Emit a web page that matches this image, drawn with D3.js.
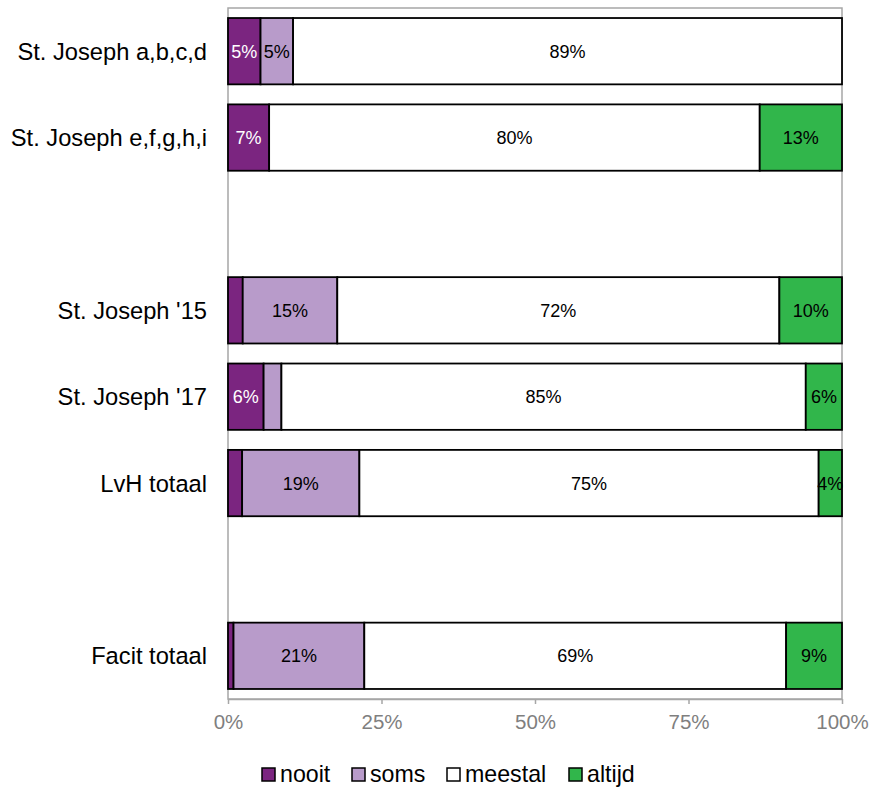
<!DOCTYPE html>
<html>
<head>
<meta charset="utf-8">
<script src="https://cdn.jsdelivr.net/npm/d3@7"></script>
<style>
  body { margin: 0; background: #fff; }
  svg { display: block; font-family: "Liberation Sans", Arial, sans-serif; }
</style>
</head>
<body>
<svg id="chart" width="870" height="787"></svg>
<script>
// Rows (empty strings are spacer rows)
const categories = ["St. Joseph a,b,c,d", "St. Joseph e,f,g,h,i", "", "St. Joseph '15", "St. Joseph '17", "LvH totaal", " ", "Facit totaal"];
const seriesNames = ["nooit", "soms", "meestal", "altijd"];
const nooit   = [5.3, 6.7, null, 2.4, 5.8, 2.3, null, 0.9];
const soms    = [5.3, 0.0, null, 15.4, 2.9, 19.1, null, 21.3];
const meestal = [89.4, 79.9, null, 72.0, 85.4, 74.8, null, 68.7];
const altijd  = [0.0, 13.4, null, 10.2, 5.9, 3.8, null, 9.1];
const xTicks = [0, 25, 50, 75, 100];
const colors = ["#7B2580", "#B89BCA", "#FFFFFF", "#31B64B"];
const labelColors = ["#FFFFFF", "#000000", "#000000", "#000000"];

const seriesValues = [nooit, soms, meestal, altijd];
const rows = categories.map((c, i) => {
  const o = { cat: c };
  seriesNames.forEach((s, j) => o[s] = seriesValues[j][i] || 0);
  o.empty = nooit[i] === null;
  return o;
});

const svg = d3.select("#chart");
const mLeft = 228, mRight = 842, mTop = 8, mBottom = 699;

const x = d3.scaleLinear().domain([0, 100]).range([mLeft, mRight]);
const y = d3.scaleBand().domain(categories).range([mTop, mBottom]).paddingInner(0.232).paddingOuter(0.116);

// plot area border
svg.append("rect").attr("x", mLeft).attr("y", mTop).attr("width", mRight - mLeft).attr("height", mBottom - mTop)
  .attr("fill", "none").attr("stroke", "#A6A6A6").attr("stroke-width", 1.5);

const stack = d3.stack().keys(seriesNames)(rows.filter(r => !r.empty));

const g = svg.append("g");
stack.forEach((layer, li) => {
  const lg = g.append("g");
  lg.selectAll("rect").data(layer.filter(d => d[1] - d[0] > 0)).join("rect")
    .attr("x", d => x(d[0]))
    .attr("y", d => y(d.data.cat))
    .attr("width", d => x(d[1]) - x(d[0]))
    .attr("height", y.bandwidth())
    .attr("fill", colors[li])
    .attr("stroke", "#000")
    .attr("stroke-width", 1.8);
});
stack.forEach((layer, li) => {
  g.append("g").selectAll("text").data(layer.filter(d => d[1] - d[0] >= 3.5)).join("text")
    .attr("x", d => (x(d[0]) + x(d[1])) / 2)
    .attr("y", d => y(d.data.cat) + y.bandwidth() / 2)
    .attr("dy", "0.36em")
    .attr("text-anchor", "middle")
    .attr("font-size", 18)
    .attr("fill", labelColors[li])
    .text(d => Math.round(d[1] - d[0]) + "%");
});

// y labels
svg.append("g").selectAll("text").data(rows.filter(r => !r.empty)).join("text")
  .attr("x", 207)
  .attr("y", d => y(d.cat) + y.bandwidth() / 2)
  .attr("dy", "0.36em")
  .attr("text-anchor", "end")
  .attr("font-size", 23.7)
  .attr("fill", "#000")
  .text(d => d.cat);

// x axis
const xAxis = svg.append("g").attr("transform", `translate(0,${mBottom})`)
  .call(d3.axisBottom(x).tickValues(xTicks).tickFormat(d => d + "%").tickSize(5).tickSizeOuter(0));
xAxis.select(".domain").attr("stroke", "#A6A6A6").attr("stroke-width", 1.5);
xAxis.selectAll(".tick line").attr("stroke", "#A6A6A6").attr("stroke-width", 1.5);
xAxis.selectAll(".tick text").attr("font-size", 20.5).attr("fill", "#7F7F7F")
  .attr("font-family", "Liberation Sans, Arial, sans-serif").attr("dy", "1.05em");

// legend
const legendX = [262, 352, 447, 569];
const leg = svg.append("g");
seriesNames.forEach((s, i) => {
  leg.append("rect").attr("x", legendX[i]).attr("y", 768).attr("width", 13).attr("height", 13)
    .attr("fill", colors[i]).attr("stroke", "#000").attr("stroke-width", 1.5);
  leg.append("text").attr("x", legendX[i] + 18).attr("y", 782).attr("font-size", 23.2)
    .attr("fill", "#000").text(s);
});
</script>
</body>
</html>
